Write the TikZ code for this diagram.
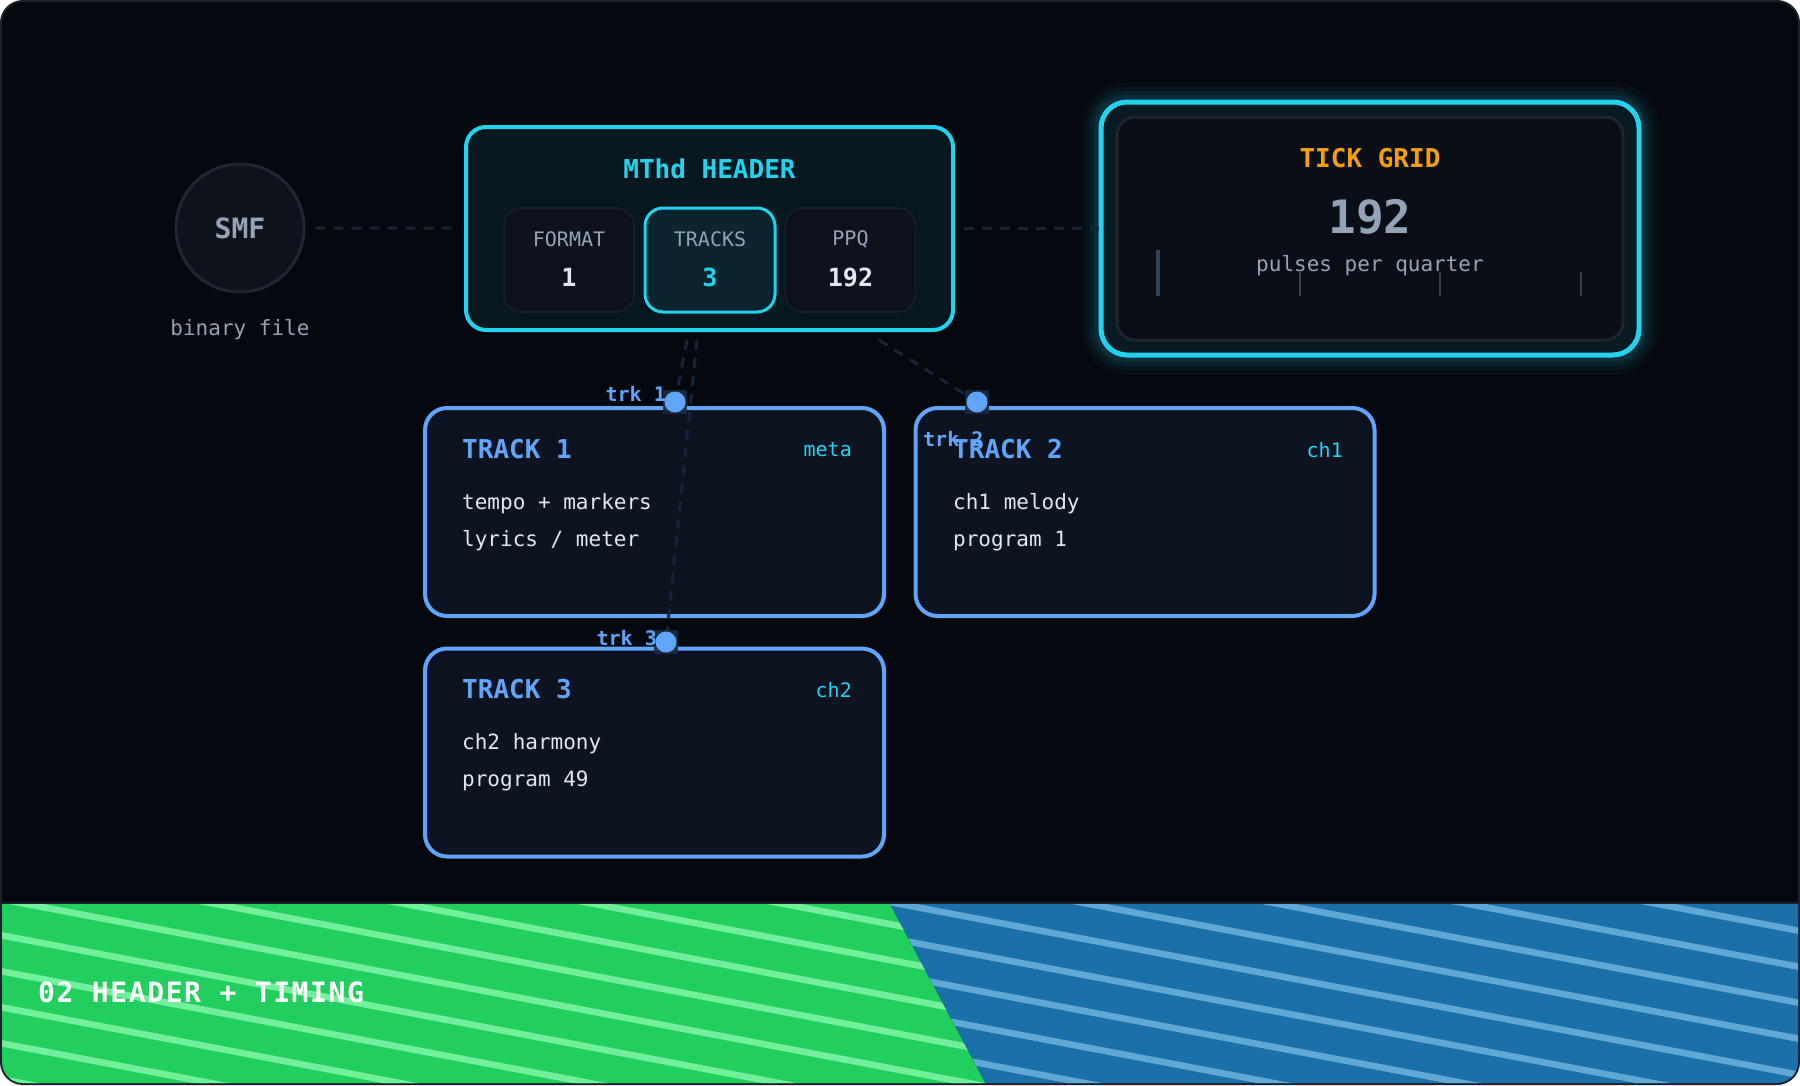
\documentclass[tikz,border=0pt]{standalone}
\usepackage{fontspec}
\setmainfont{DejaVu Sans Mono}
\newfontfamily\bandfont[LetterSpace=5.7]{DejaVu Sans Mono}
\usetikzlibrary{calc}
\definecolor{bg}{HTML}{05080F}
\definecolor{framec}{HTML}{1C222C}
\definecolor{cyanc}{HTML}{22D3EE}
\definecolor{bluec}{HTML}{60A5FA}
\definecolor{slatec}{HTML}{94A3B8}
\definecolor{whitec}{HTML}{E2E8F0}
\definecolor{orangec}{HTML}{F59E0B}
\definecolor{connc}{HTML}{16243A}
\definecolor{trackfill}{HTML}{0D1320}
\definecolor{hdrfill}{HTML}{081820}
\definecolor{subfill}{HTML}{0D121D}
\definecolor{subline}{HTML}{151E2C}
\definecolor{trkfill}{HTML}{0A2430}
\definecolor{smffill}{HTML}{0F141C}
\definecolor{smfline}{HTML}{1E262F}
\definecolor{tickc}{HTML}{334155}
\definecolor{greenb}{HTML}{22CE5E}
\definecolor{greens}{HTML}{72F09C}
\definecolor{blueb}{HTML}{1A70A8}
\definecolor{blues}{HTML}{62A8D4}
\definecolor{tickfill}{HTML}{0A0E17}
\definecolor{tickring}{HTML}{0A1A22}
\definecolor{tickinline}{HTML}{1E252F}
\definecolor{portsqc}{HTML}{1B2A40}
\newcommand\fsz[1]{\fontsize{#1}{#1}\selectfont}
\begin{document}
\begin{tikzpicture}[x=1pt,y=-1pt,
  conn/.style={draw=connc, line width=3, dash pattern=on 10pt off 8pt},
  trackbox/.style={draw=bluec, fill=trackfill, line width=4, rounded corners=22, minimum width=459, minimum height=208, inner sep=0},
  subbox/.style={draw=subline, fill=subfill, line width=2, rounded corners=18, minimum width=130, minimum height=104, inner sep=0},
  sublabel/.style={text=slatec, font=\fsz{20}},
  subval/.style={text=whitec, font=\bfseries\fsz{25}},
  ttitle/.style={text=bluec, font=\bfseries\fsz{26}, anchor=west, inner sep=0},
  ttag/.style={text=cyanc, font=\fsz{20}, anchor=east, inner sep=0},
  tbody/.style={text=whitec, font=\fsz{21}, anchor=west, inner sep=0},
  portsq/.style={fill=portsqc, minimum size=24, inner sep=0, opacity=0.9},
  portdot/.style={circle, fill=bluec, minimum size=21, inner sep=0},
  portlbl/.style={text=bluec, font=\bfseries\fsz{20}, inner sep=0},
  ticks/.style={draw=tickc, line width=2}
]
\useasboundingbox (0,0) rectangle (1800,1085);
% frame
\draw[fill=bg, draw=framec, line width=2, rounded corners=22] (1,1) rectangle (1799,1084);
% band
\begin{scope}
  \clip[rounded corners=21] (2,2) rectangle (1798,1083);
  \begin{scope}
    \clip (0,904) -- (890,904) -- (987,1086) -- (0,1086) -- cycle;
    \fill[greenb] (0,904) rectangle (1800,1086);
    \foreach \k in {-11,...,5} \draw[greens, line width=6.5] (0,{935+\k*36}) -- (1800,{935+\k*36+342});
  \end{scope}
  \begin{scope}
    \clip (890,904) -- (1800,904) -- (1800,1086) -- (987,1086) -- cycle;
    \fill[blueb] (0,904) rectangle (1800,1086);
    \foreach \k in {-11,...,5} \draw[blues, line width=6.5] (0,{913+\k*36}) -- (1800,{913+\k*36+342});
  \end{scope}
\end{scope}
\draw[framec, line width=2] (2,903) -- (1798,903);
\node[anchor=west, text=white, font=\bandfont\bfseries\fsz{28}, inner sep=0] (band) at (38,992) {02 HEADER + TIMING};

% SMF
\node[circle, minimum size=128, fill=smffill, draw=smfline, line width=3, text=slatec, font=\bfseries\fsz{28}, inner sep=0] (smf) at (240,228) {SMF};
\node[text=slatec, font=\fsz{21}] (smflbl) at (240,330) {binary file};

% header
\node[draw=cyanc, fill=hdrfill, line width=4, rounded corners=20, minimum width=487, minimum height=203, inner sep=0] (hdr) at (709.5,228.5) {};
\node[text=cyanc, font=\bfseries\fsz{26}] (hdrtitle) at (709.5,169) {MThd HEADER};
\node[subbox] (fmt) at (569,260) {};
\node[subbox, draw=cyanc, fill=trkfill, line width=3] (trks) at (710,260) {};
\node[subbox] (ppq) at (850.5,260) {};
\node[sublabel] (fmtl) at (569,239) {FORMAT};
\node[subval] (fmtv) at (569,277) {1};
\node[sublabel] (trksl) at (710,239) {TRACKS};
\node[subval, text=cyanc] (trksv) at (710,277) {3};
\node[sublabel] (ppql) at (850.5,239) {PPQ};
\node[subval] (ppqv) at (850.5,277) {192};

% tick grid
\foreach \w/\o in {40/0.035, 30/0.045, 22/0.06, 14/0.08} \draw[cyanc, opacity=\o, line width=\w, rounded corners=26] (1101,102) rectangle (1639,355);
\node[draw=cyanc, fill=tickring, line width=5, rounded corners=26, minimum width=538, minimum height=253, inner sep=0] (tick) at (1370,228.5) {};
\node[draw=tickinline, fill=tickfill, line width=3, rounded corners=18, minimum width=506, minimum height=223, inner sep=0] (tickin) at (1370,228.5) {};
\node[text=orangec, font=\bfseries\fsz{26}] (ticktitle) at (1370,158) {TICK GRID};
\node[text=slatec, font=\bfseries\fsz{46}] (tickval) at (1370,217) {192};
\node[text=slatec, font=\fsz{21}] (ticklbl) at (1370,266) {pulses per quarter};
\draw[ticks, line width=4] (1158,250) -- (1158,296);
\draw[ticks] (1300,272) -- (1300,296);
\draw[ticks] (1440,272) -- (1440,296);
\draw[ticks] (1581,272) -- (1581,296);

% dashed links
\draw[conn, shorten <=10pt, shorten >=12pt] (smf) -- (hdr);
\draw[conn, shorten <=9pt, shorten >=0pt] (hdr.east) -- (tick.west);

% tracks
\node[trackbox] (tr1) at (654.5,512) {};
\node[trackbox] (tr2) at (1145,512) {};
\node[trackbox] (tr3) at (654.5,752.5) {};
\node[ttitle] (tr1t) at (462,449) {TRACK 1};
\node[ttag] (tr1g) at (852,450) {meta};
\node[tbody] (tr1a) at (462,504) {tempo + markers};
\node[tbody] (tr1b) at (462,541) {lyrics / meter};
\node[ttitle] (tr2t) at (953,449) {TRACK 2};
\node[ttag] (tr2g) at (1343,450) {ch1};
\node[tbody] (tr2a) at (953,504) {ch1 melody};
\node[tbody] (tr2b) at (953,541) {program 1};
\node[ttitle] (tr3t) at (462,689) {TRACK 3};
\node[ttag] (tr3g) at (852,690) {ch2};
\node[tbody] (tr3a) at (462,744) {ch2 harmony};
\node[tbody] (tr3b) at (462,781) {program 49};

% connectors header -> ports
\coordinate (c1) at (687,340);
\coordinate (c3) at (697,340);
\coordinate (c2) at (879,340);
\coordinate (p1c) at (675,402);
\coordinate (p2c) at (977,402);
\coordinate (p3c) at (666,642);
\draw[conn] (c1) -- (p1c);
\draw[conn] (c3) -- (p3c);
\draw[conn] (c2) -- (p2c);

% ports
\node[portsq] (p1s) at (p1c) {};
\node[portsq] (p2s) at (p2c) {};
\node[portsq] (p3s) at (p3c) {};
\node[portdot] (p1) at (p1c) {};
\node[portdot] (p2) at (p2c) {};
\node[portdot] (p3) at (p3c) {};
\node[portlbl, anchor=east] (p1l) at (666,394) {trk 1};
\node[portlbl, anchor=west] (p2l) at (923,439) {trk 2};
\node[portlbl, anchor=east] (p3l) at (657,638) {trk 3};
\end{tikzpicture}
\end{document}
